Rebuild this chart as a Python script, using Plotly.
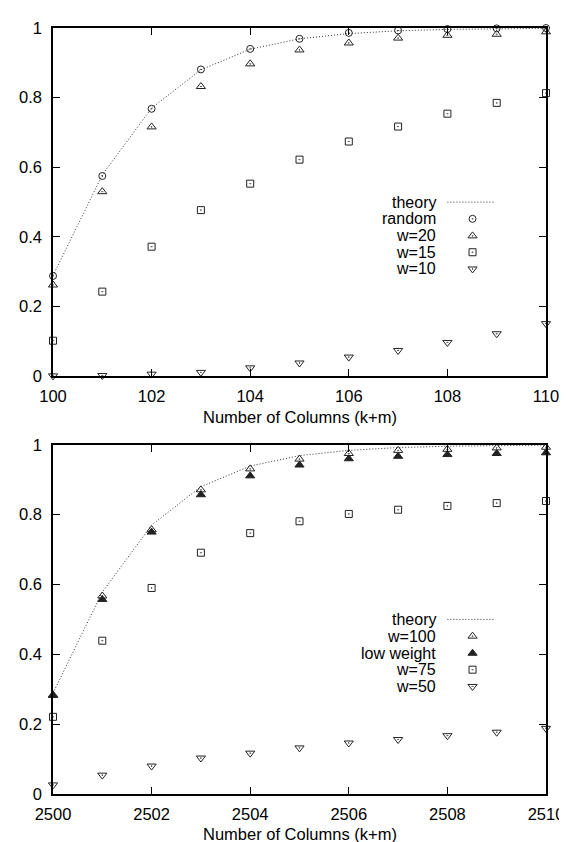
import plotly.graph_objects as go

# ---------------- data ----------------
cols_top = [100, 101, 102, 103, 104, 105, 106, 107, 108, 109, 110]
cols_bot = [2500, 2501, 2502, 2503, 2504, 2505, 2506, 2507, 2508, 2509, 2510]

theory = [0.289, 0.578, 0.770, 0.880, 0.939, 0.969, 0.984, 0.992, 0.996, 0.998, 0.999]

top_random = [0.288, 0.575, 0.768, 0.881, 0.940, 0.969, 0.986, 0.993, 0.997, 0.999, 1.0]
top_w20 = [0.262, 0.530, 0.716, 0.832, 0.897, 0.937, 0.957, 0.971, 0.979, 0.982, 0.989]
top_w15 = [0.102, 0.243, 0.372, 0.477, 0.553, 0.622, 0.674, 0.717, 0.754, 0.785, 0.813]
top_w10 = [0.001, 0.002, 0.006, 0.011, 0.024, 0.038, 0.055, 0.074, 0.097, 0.122, 0.151]

bot_w100 = [0.284, 0.567, 0.757, 0.871, 0.931, 0.959, 0.975, 0.984, 0.987, 0.991, 0.993]
bot_low = [0.282, 0.557, 0.750, 0.857, 0.911, 0.942, 0.960, 0.967, 0.972, 0.975, 0.977]
bot_w75 = [0.221, 0.439, 0.590, 0.691, 0.747, 0.781, 0.802, 0.814, 0.825, 0.833, 0.839]
bot_w50 = [0.026, 0.054, 0.080, 0.103, 0.117, 0.132, 0.146, 0.156, 0.167, 0.177, 0.188]

top_names = ["theory", "random", "w=20", "w=15", "w=10"]
bot_names = ["theory", "w=100", "low weight", "w=75", "w=50"]

y_ticks = [0, 0.2, 0.4, 0.6, 0.8, 1]
y_ticktext = ["0", "0.2", "0.4", "0.6", "0.8", "1"]
top_xticks = [100, 102, 104, 106, 108, 110]
bot_xticks = [2500, 2502, 2504, 2506, 2508, 2510]
x_title = "Number of Columns (k+m)"

# ---------------- styles ----------------
FONT = "Liberation Sans, Arial, Helvetica, sans-serif"
INK = "#222222"
LINE_STYLE = dict(color="#333333", width=1, dash="1px,2px")


def mk(symbol):
    size = 8 if "triangle" in symbol else 7
    return dict(symbol=symbol, size=size, color=INK, line=dict(color=INK, width=1))


sym_top = [None, "circle-open-dot", "triangle-up-open-dot", "square-open-dot", "triangle-down-open-dot"]
sym_bot = [None, "triangle-up-open-dot", "triangle-up", "square-open-dot", "triangle-down-open-dot"]

fig = go.Figure()


def add_panel(xs, series, syms, xa, ya):
    fig.add_trace(go.Scatter(x=xs, y=theory, mode="lines", line=LINE_STYLE,
                             xaxis=xa, yaxis=ya, showlegend=False, cliponaxis=False,
                             hoverinfo="skip"))
    for ys, s in zip(series, syms[1:]):
        fig.add_trace(go.Scatter(x=xs, y=ys, mode="markers", marker=mk(s),
                                 xaxis=xa, yaxis=ya, showlegend=False, cliponaxis=False))


add_panel(cols_top, [top_random, top_w20, top_w15, top_w10], sym_top, "x", "y")
add_panel(cols_bot, [bot_w100, bot_low, bot_w75, bot_w50], sym_bot, "x2", "y2")


# ---------------- custom legends (text right-aligned, key to the right) ----------------
def add_legend(names, syms, xa, ya, x0, text_x, key_x, line_x0, line_x1, rows):
    for name, s, ry in zip(names, syms, rows):
        fig.add_annotation(x=x0 + text_x, y=ry, xref=xa, yref=ya, text=name,
                           xanchor="right", yanchor="middle", showarrow=False,
                           font=dict(family=FONT, size=16, color="black"))
        if s is None:
            fig.add_shape(type="line", xref=xa, yref=ya, x0=x0 + line_x0, x1=x0 + line_x1,
                          y0=ry, y1=ry, line=LINE_STYLE)
        else:
            fig.add_trace(go.Scatter(x=[x0 + key_x], y=[ry], mode="markers", marker=mk(s),
                                     xaxis=xa, yaxis=ya, showlegend=False, cliponaxis=False,
                                     hoverinfo="skip"))


leg_rows = [0.500, 0.452, 0.403, 0.356, 0.308]
add_legend(top_names, sym_top, "x", "y", 100, 7.80, 8.51, 8.00, 8.95, leg_rows)
add_legend(bot_names, sym_bot, "x2", "y2", 2500, 7.80, 8.51, 8.00, 8.95, leg_rows)

# ---------------- axes ----------------
axis_common = dict(showgrid=False, zeroline=False, showline=True, linecolor="black",
                   linewidth=1.5, mirror="ticks", ticks="inside", ticklen=7,
                   tickwidth=1.2, tickcolor="black",
                   tickfont=dict(family=FONT, size=16.5, color="black"))

fig.update_layout(
    width=567, height=842,
    margin=dict(l=42, r=19, t=11, b=56),
    paper_bgcolor="white", plot_bgcolor="white",
    showlegend=False,
    xaxis=dict(domain=[0, 1], range=[100, 110], tickvals=top_xticks, anchor="y",
               ticklabelstandoff=4, **axis_common),
    yaxis=dict(domain=[0.5454, 1.0], range=[0, 1], tickvals=y_ticks, ticktext=y_ticktext,
               anchor="x", ticklabelstandoff=6, **axis_common),
    xaxis2=dict(domain=[0, 1], range=[2500, 2510], tickvals=bot_xticks, anchor="y2",
                ticklabelstandoff=4, **axis_common),
    yaxis2=dict(domain=[0.0, 0.4559], range=[0, 1], tickvals=y_ticks, ticktext=y_ticktext,
                anchor="x2", ticklabelstandoff=6, **axis_common),
)

fig.add_annotation(x=0.5, y=0.4916, xref="paper", yref="paper", text=x_title,
                   showarrow=False, xanchor="center", yanchor="middle",
                   font=dict(family=FONT, size=16.5, color="black"))
fig.add_annotation(x=0.5, y=-0.0525, xref="paper", yref="paper", text=x_title,
                   showarrow=False, xanchor="center", yanchor="middle",
                   font=dict(family=FONT, size=16.5, color="black"))

fig.write_html("out.html")
